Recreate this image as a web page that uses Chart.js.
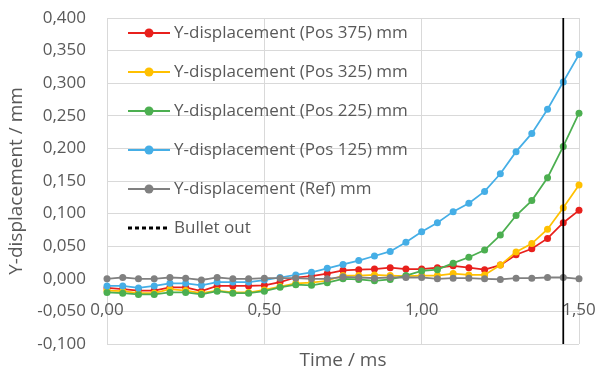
<!DOCTYPE html>
<html>
<head>
<meta charset="utf-8">
<script src="https://cdn.jsdelivr.net/npm/chart.js"></script>
<style>
  html, body { margin: 0; padding: 0; background: #fff; }
  #wrap { width: 599px; height: 372px; position: relative; }
</style>
</head>
<body>
<div id="wrap"><canvas id="myChart"></canvas></div>
<script>
// time axis (ms)
const times = [0.00, 0.05, 0.10, 0.15, 0.20, 0.25, 0.30, 0.35, 0.40, 0.45, 0.50,
  0.55, 0.60, 0.65, 0.70, 0.75, 0.80, 0.85, 0.90, 0.95, 1.00,
  1.05, 1.10, 1.15, 1.20, 1.25, 1.30, 1.35, 1.40, 1.45, 1.50];

// Y-displacement in mm
const pos375 = [-0.014, -0.016, -0.018, -0.018, -0.013, -0.013, -0.019, -0.011, -0.011, -0.011, -0.010,
  -0.005, 0.002, 0.004, 0.008, 0.013, 0.014, 0.015, 0.017, 0.015, 0.015,
  0.017, 0.020, 0.017, 0.014, 0.021, 0.037, 0.046, 0.062, 0.086, 0.105];
const pos325 = [-0.018, -0.019, -0.022, -0.022, -0.016, -0.018, -0.022, -0.018, -0.021, -0.021, -0.017,
  -0.012, -0.007, -0.006, -0.003, 0.005, 0.005, 0.006, 0.005, 0.004, 0.005,
  0.005, 0.008, 0.006, 0.006, 0.021, 0.041, 0.054, 0.076, 0.109, 0.144];
const pos225 = [-0.021, -0.022, -0.024, -0.024, -0.021, -0.021, -0.024, -0.019, -0.022, -0.022, -0.019,
  -0.013, -0.009, -0.010, -0.006, 0.000, -0.001, -0.003, -0.001, 0.005, 0.012,
  0.014, 0.024, 0.033, 0.044, 0.067, 0.097, 0.120, 0.155, 0.203, 0.254];
const pos125 = [-0.011, -0.011, -0.014, -0.011, -0.007, -0.007, -0.010, -0.005, -0.005, -0.005, -0.002,
  0.002, 0.006, 0.010, 0.016, 0.022, 0.028, 0.035, 0.042, 0.056, 0.072,
  0.086, 0.103, 0.116, 0.134, 0.161, 0.195, 0.223, 0.260, 0.302, 0.344];
const ref = [0.000, 0.002, 0.000, 0.000, 0.002, 0.001, -0.002, 0.002, 0.000, 0.000, 0.001,
  0.001, 0.001, 0.000, 0.000, 0.003, 0.002, 0.001, 0.002, 0.002, 0.002,
  0.000, 0.001, 0.001, 0.000, -0.001, 0.001, 0.001, 0.002, 0.002, 0.000];

const seriesNames = [
  "Y-displacement (Pos 375) mm",
  "Y-displacement (Pos 325) mm",
  "Y-displacement (Pos 225) mm",
  "Y-displacement (Pos 125) mm",
  "Y-displacement (Ref) mm",
];
const seriesValues = [pos375, pos325, pos225, pos125, ref];
const seriesColors = ["#E8201C", "#FFC000", "#4CAF50", "#45AEE6", "#808080"];

const bulletTime = 1.45;
const bulletName = "Bullet out";
const yMin = -0.1, yMax = 0.4, yStep = 0.05;
const xMin = 0, xMax = 1.5, xStep = 0.5;

const textColor = "#595959";
const gridColor = "#d9d9d9";
const fontFamily = "'Open Sans', sans-serif";

const datasets = seriesValues.map((vals, i) => ({
  label: seriesNames[i],
  data: times.map((t, j) => ({ x: t, y: vals[j] })),
  borderColor: seriesColors[i],
  backgroundColor: seriesColors[i],
  borderWidth: 1.75,
  pointRadius: 3.5,
  pointBorderWidth: 0,
  tension: 0,
  clip: false,
  order: 10 - i,
}));
datasets.push({
  label: bulletName,
  data: [{ x: bulletTime, y: yMin }, { x: bulletTime, y: yMax }],
  borderColor: "#000",
  borderWidth: 1.75,
  pointRadius: 0,
  order: 0,
});

// legend drawn inside the plot, Excel style (line + marker)
const insideLegend = {
  id: "insideLegend",
  afterDraw(chart) {
    const ctx = chart.ctx;
    const x0 = 128, x1 = 170, top = 33, gap = 39;
    ctx.save();
    ctx.font = "17px " + fontFamily;
    ctx.textBaseline = "middle";
    ctx.fillStyle = textColor;
    seriesNames.forEach((name, i) => {
      const y = top + i * gap;
      ctx.strokeStyle = seriesColors[i];
      ctx.lineWidth = 2;
      ctx.beginPath();
      ctx.moveTo(x0, y);
      ctx.lineTo(x1, y);
      ctx.stroke();
      ctx.fillStyle = seriesColors[i];
      ctx.beginPath();
      ctx.arc((x0 + x1) / 2, y, 4.5, 0, Math.PI * 2);
      ctx.fill();
      ctx.fillStyle = textColor;
      ctx.fillText(name, x1 + 4, y);
    });
    const yb = top + seriesNames.length * gap;
    ctx.strokeStyle = "#000";
    ctx.lineWidth = 3;
    ctx.setLineDash([4, 3]);
    ctx.beginPath();
    ctx.moveTo(x0, yb);
    ctx.lineTo(x1, yb);
    ctx.stroke();
    ctx.setLineDash([]);
    ctx.fillText(bulletName, x1 + 4, yb);
    ctx.restore();
  },
};

const comma = (v, d) => {
  if (Math.abs(v) < 1e-9) v = 0;
  return v.toFixed(d).replace(".", ",");
};

// stop tick labels from pushing the plot area around
const noPad = (s) => {
  s.paddingLeft = 0;
  s.paddingRight = 0;
  s.paddingTop = 0;
  s.paddingBottom = 0;
};

var ctx = document.getElementById("myChart").getContext("2d");
var myChart = new Chart(ctx, {
  type: "line",
  data: { datasets: datasets },
  plugins: [insideLegend],
  options: {
    responsive: true,
    maintainAspectRatio: false,
    animation: false,
    layout: { padding: { top: 18, right: 20, bottom: 0, left: 0 } },
    plugins: {
      legend: { display: false },
      tooltip: { enabled: false },
    },
    scales: {
      x: {
        type: "linear",
        min: xMin,
        max: xMax,
        position: { y: 0 },
        grid: { color: gridColor, lineWidth: 1, drawTicks: false },
        border: { display: false },
        ticks: {
          stepSize: xStep,
          padding: 21,
          color: textColor,
          font: { family: fontFamily, size: 17 },
          maxRotation: 0,
          callback: (v) => comma(v, 2),
        },
        afterFit: noPad,
      },
      xt: {
        type: "linear",
        min: xMin,
        max: xMax,
        position: "bottom",
        grid: { display: false },
        border: { display: false },
        ticks: { display: false },
        title: {
          display: true,
          text: "Time / ms",
          color: textColor,
          font: { family: fontFamily, size: 19 },
          padding: 0,
        },
        afterFit: (s) => { noPad(s); s.height = 28; },
      },
      y: {
        min: yMin,
        max: yMax,
        grid: { color: gridColor, lineWidth: 1, drawTicks: false },
        border: { display: false },
        ticks: {
          stepSize: yStep,
          padding: 21,
          color: textColor,
          font: { family: fontFamily, size: 17 },
          callback: (v) => comma(v, 3),
        },
        title: {
          display: true,
          text: "Y-displacement / mm",
          color: textColor,
          font: { family: fontFamily, size: 19 },
          padding: { top: 5, bottom: 0 },
        },
        afterFit: (s) => { noPad(s); s.width = 107; },
      },
    },
  },
});
</script>
</body>
</html>
